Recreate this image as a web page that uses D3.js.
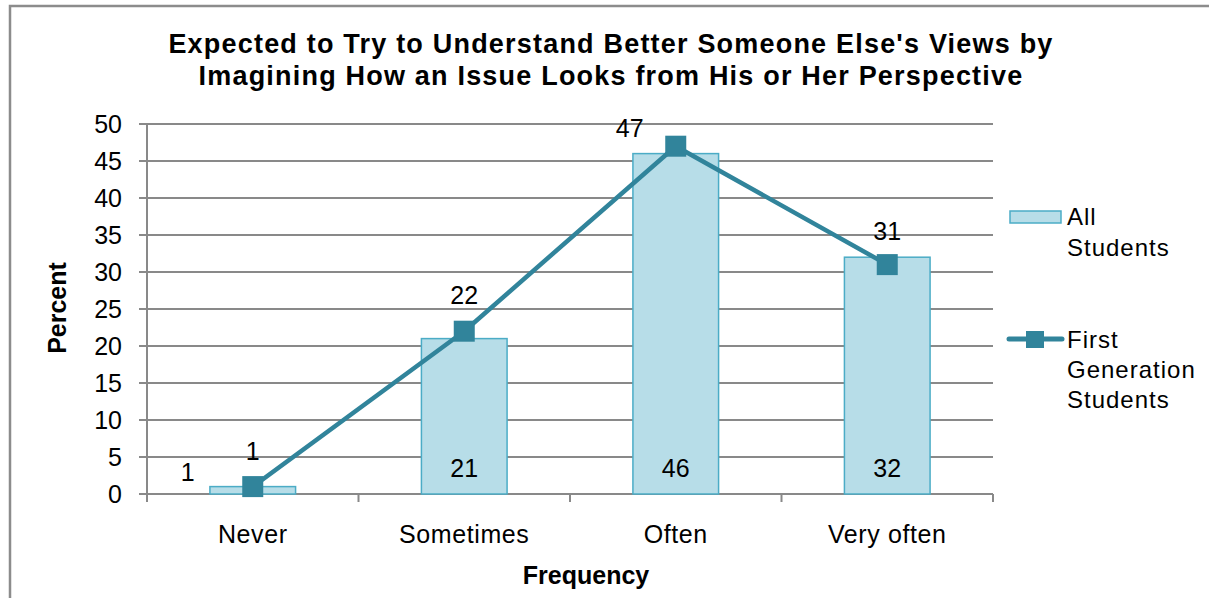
<!DOCTYPE html>
<html>
<head>
<meta charset="utf-8">
<script src="https://cdn.jsdelivr.net/npm/d3@7"></script>
<style>
  html, body { margin: 0; padding: 0; background: #fff; }
  svg { display: block; font-family: "Liberation Sans", Arial, sans-serif; }
</style>
</head>
<body>
<svg id="chart" width="1209" height="598"></svg>
<script>
// Survey response frequency, percent of students
const categories = ["Never", "Sometimes", "Often", "Very often"];
const allStudents = [1, 21, 46, 32];
const firstGen = [1, 22, 47, 31];
const yTicks = [0, 5, 10, 15, 20, 25, 30, 35, 40, 45, 50];
const titleLines = [
  "Expected to Try to Understand Better Someone Else's Views by",
  "Imagining How an Issue Looks from His or Her Perspective"
];
const seriesNames = [["All", "Students"], ["First", "Generation", "Students"]];

const svg = d3.select("#chart");
const margin = { left: 147, top: 124, right: 993, bottom: 494 };

const gridColor = "#898989";
const barFill = "#b7dde8";
const barStroke = "#4bacc6";
const lineColor = "#31849b";
const labelSize = 25;

// outer frame
svg.append("rect")
  .attr("x", 10).attr("y", 6).attr("width", 1220).attr("height", 620)
  .attr("fill", "none").attr("stroke", "#8c8c8c").attr("stroke-width", 2.5);

const x = d3.scaleBand().domain(categories).range([margin.left, margin.right]);
const y = d3.scaleLinear().domain([0, 50]).range([margin.bottom, margin.top]);

// horizontal gridlines
svg.append("g").selectAll("line").data(yTicks).join("line")
  .attr("x1", margin.left - 8).attr("x2", margin.right)
  .attr("y1", d => y(d)).attr("y2", d => y(d))
  .attr("stroke", gridColor).attr("stroke-width", 2);

// y axis line
svg.append("line")
  .attr("x1", margin.left).attr("x2", margin.left)
  .attr("y1", margin.top).attr("y2", margin.bottom + 1)
  .attr("stroke", gridColor).attr("stroke-width", 2);

// y tick labels
svg.append("g").selectAll("text").data(yTicks).join("text")
  .attr("x", 122).attr("y", d => y(d))
  .attr("dy", "0.35em")
  .attr("text-anchor", "end")
  .attr("font-size", labelSize)
  .attr("fill", "#000")
  .text(d => d);

// category boundary ticks below the baseline
const boundaries = categories.map(c => x(c)).concat([margin.right]);
svg.append("g").selectAll("line").data(boundaries).join("line")
  .attr("x1", d => d).attr("x2", d => d)
  .attr("y1", margin.bottom).attr("y2", margin.bottom + 8)
  .attr("stroke", gridColor).attr("stroke-width", 2);

// category labels
svg.append("g").selectAll("text").data(categories).join("text")
  .attr("x", d => x(d) + x.bandwidth() / 2)
  .attr("y", 543)
  .attr("text-anchor", "middle")
  .attr("font-size", labelSize)
  .attr("letter-spacing", 0.6)
  .text(d => d);

// bars
const barW = x.bandwidth() * 0.405;
svg.append("g").selectAll("rect").data(allStudents).join("rect")
  .attr("x", (d, i) => x(categories[i]) + x.bandwidth() / 2 - barW / 2)
  .attr("y", d => y(d))
  .attr("width", barW)
  .attr("height", d => y(0) - y(d))
  .attr("fill", barFill)
  .attr("stroke", barStroke)
  .attr("stroke-width", 1.5);

// bar value labels
const barLabelDx = [-65, 0, 0, 0];
const barLabelY = [481, 477, 477, 477];
svg.append("g").selectAll("text").data(allStudents).join("text")
  .attr("x", (d, i) => x(categories[i]) + x.bandwidth() / 2 + barLabelDx[i])
  .attr("y", (d, i) => barLabelY[i])
  .attr("text-anchor", "middle")
  .attr("font-size", labelSize)
  .text(d => d);

// first-generation line
const cx = i => x(categories[i]) + x.bandwidth() / 2;
const line = d3.line().x((d, i) => cx(i)).y(d => y(d));
svg.append("path")
  .datum(firstGen)
  .attr("d", line)
  .attr("fill", "none")
  .attr("stroke", lineColor)
  .attr("stroke-width", 4.5)
  .attr("stroke-linejoin", "round");

const m = 21;
svg.append("g").selectAll("rect").data(firstGen).join("rect")
  .attr("x", (d, i) => cx(i) - m / 2)
  .attr("y", d => y(d) - m / 2)
  .attr("width", m).attr("height", m)
  .attr("fill", lineColor);

// line value labels
const lineLabelDx = [0, 0, -46, 0];
const lineLabelDy = [-27, -27, -9, -25];
svg.append("g").selectAll("text").data(firstGen).join("text")
  .attr("x", (d, i) => cx(i) + lineLabelDx[i])
  .attr("y", (d, i) => y(d) + lineLabelDy[i])
  .attr("text-anchor", "middle")
  .attr("font-size", labelSize)
  .text(d => d);

// title
svg.append("g").selectAll("text").data(titleLines).join("text")
  .attr("x", 611)
  .attr("y", (d, i) => 53 + i * 32)
  .attr("text-anchor", "middle")
  .attr("font-size", 27)
  .attr("font-weight", "bold")
  .attr("letter-spacing", 1.2)
  .text(d => d);

// axis titles
svg.append("text")
  .attr("transform", "translate(66,308) rotate(-90)")
  .attr("text-anchor", "middle")
  .attr("font-size", 25)
  .attr("font-weight", "bold")
  .text("Percent");

svg.append("text")
  .attr("x", 586).attr("y", 584)
  .attr("text-anchor", "middle")
  .attr("font-size", 25)
  .attr("font-weight", "bold")
  .text("Frequency");

// legend
const lg = svg.append("g");
lg.append("rect")
  .attr("x", 1010).attr("y", 211).attr("width", 51).attr("height", 12)
  .attr("fill", barFill).attr("stroke", barStroke).attr("stroke-width", 1.5);
lg.append("text").attr("font-size", 24).attr("letter-spacing", 1)
  .selectAll("tspan").data(seriesNames[0]).join("tspan")
  .attr("x", 1067).attr("y", (d, i) => 225 + i * 31)
  .text(d => d);

lg.append("line")
  .attr("x1", 1009).attr("x2", 1062).attr("y1", 339).attr("y2", 339)
  .attr("stroke", lineColor).attr("stroke-width", 5).attr("stroke-linecap", "round");
lg.append("rect")
  .attr("x", 1026).attr("y", 331).attr("width", 18).attr("height", 17)
  .attr("fill", lineColor);
lg.append("text").attr("font-size", 24).attr("letter-spacing", 1)
  .selectAll("tspan").data(seriesNames[1]).join("tspan")
  .attr("x", 1067).attr("y", (d, i) => 348 + i * 30.2)
  .text(d => d);
</script>
</body>
</html>
